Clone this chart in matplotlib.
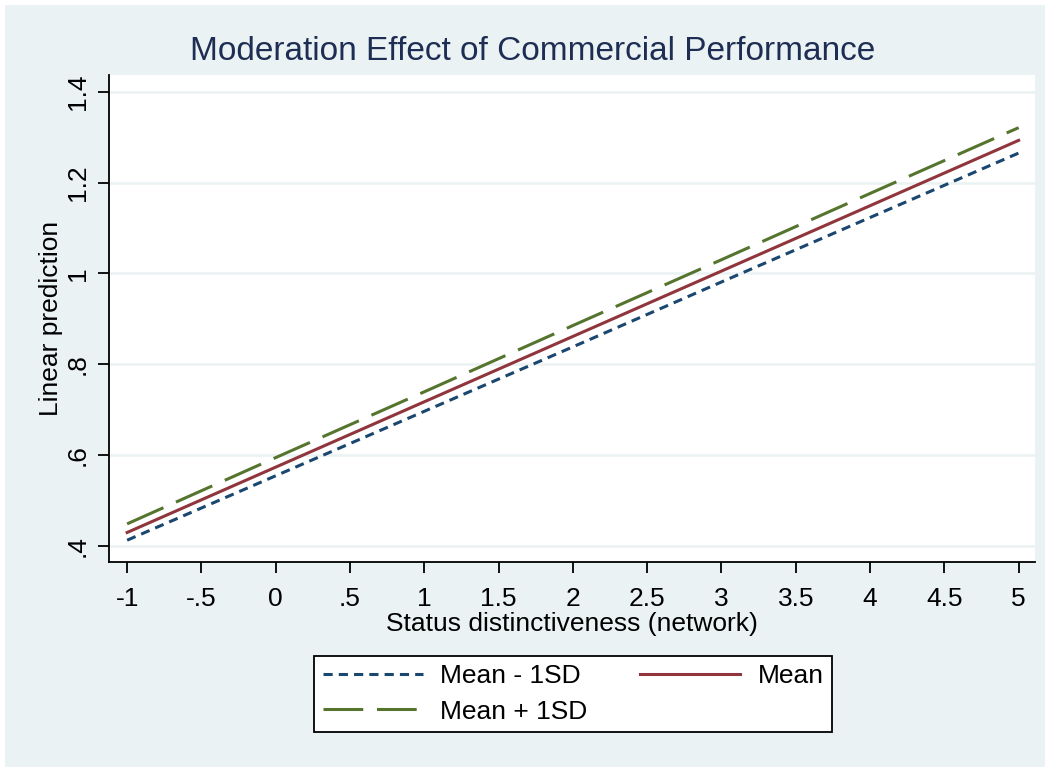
import matplotlib
matplotlib.use("Agg")
import matplotlib.pyplot as plt
from matplotlib.patches import Rectangle

plt.rcParams['font.family'] = ['Liberation Sans', 'DejaVu Sans']

# predicted values at each level of status distinctiveness
x_vals = [-1, 0, 1, 2, 3, 4, 5]
low_sd = [0.412, 0.554, 0.696, 0.838, 0.981, 1.123, 1.265]
mean_vals = [0.429, 0.573, 0.717, 0.861, 1.005, 1.149, 1.293]
high_sd = [0.448, 0.594, 0.739, 0.885, 1.030, 1.176, 1.321]

x_ticks = [-1, -0.5, 0, 0.5, 1, 1.5, 2, 2.5, 3, 3.5, 4, 4.5, 5]
x_ticklabels = ["-1", "-.5", "0", ".5", "1", "1.5", "2", "2.5", "3", "3.5", "4", "4.5", "5"]
y_ticks = [0.4, 0.6, 0.8, 1.0, 1.2, 1.4]
y_ticklabels = [".4", ".6", ".8", "1", "1.2", "1.4"]

bg = "#eaf2f3"
navy = "#1a476f"
maroon = "#90353b"
green = "#55752f"
fs = 19

W, H = 1047, 770
fig = plt.figure(figsize=(W / 100, H / 100), dpi=100, facecolor="white")
fig.patches.append(Rectangle((5 / W, 3 / H), 1040 / W, 762 / H, transform=fig.transFigure,
                             facecolor=bg, edgecolor="none", zorder=-10))

# plot region in pixel coords: left 109, right 1035, top 75, bottom 562
ax = fig.add_axes([109 / W, 1 - 562 / H, (1035 - 109) / W, (562 - 75) / H])
ax.set_facecolor("white")

l1, = ax.plot(x_vals, low_sd, color=navy, lw=2.2, ls=(0, (3, 2)), label="Mean - 1SD")
l2, = ax.plot(x_vals, mean_vals, color=maroon, lw=2.2, ls="-", label="Mean")
l3, = ax.plot(x_vals, high_sd, color=green, lw=2.2, ls=(0, (13, 4.5)), label="Mean + 1SD")

ax.set_xlim(-1.122, 5.11)
ax.set_ylim(0.364, 1.437)
ax.set_xticks(x_ticks)
ax.set_xticklabels(x_ticklabels)
ax.set_yticks(y_ticks)
ax.set_yticklabels(y_ticklabels, rotation=90, va="center")
ax.tick_params(axis="both", length=8, width=1.3, labelsize=fs, direction="out")
ax.tick_params(axis="x", pad=10)
ax.tick_params(axis="y", pad=6)

ax.yaxis.grid(True, color=bg, lw=1.8, zorder=0)
ax.set_axisbelow(True)
for s in ["top", "right"]:
    ax.spines[s].set_visible(False)
for s in ["left", "bottom"]:
    ax.spines[s].set_linewidth(1.3)

ax.set_xlabel("Status distinctiveness (network)", fontsize=fs, labelpad=1)
ax.set_ylabel("Linear prediction", fontsize=fs, labelpad=2)

fig.text(533 / W, 1 - 52 / H, "Moderation Effect of Commercial Performance",
         ha="center", va="center", fontsize=24, color="#1e2d53")

leg = fig.legend([l1, l3, l2], ["Mean - 1SD", "Mean + 1SD", "Mean"], ncol=2,
                 loc="center", bbox_to_anchor=(573 / W, 1 - 694 / H),
                 fontsize=fs, frameon=True, fancybox=False, edgecolor="black",
                 framealpha=1, facecolor="white",
                 handlelength=3.8, handletextpad=0.65, columnspacing=2.0,
                 labelspacing=0.42, borderpad=0.32, borderaxespad=0)
leg.get_frame().set_linewidth(1.3)

fig.savefig("out.png", dpi=100, facecolor="white")
